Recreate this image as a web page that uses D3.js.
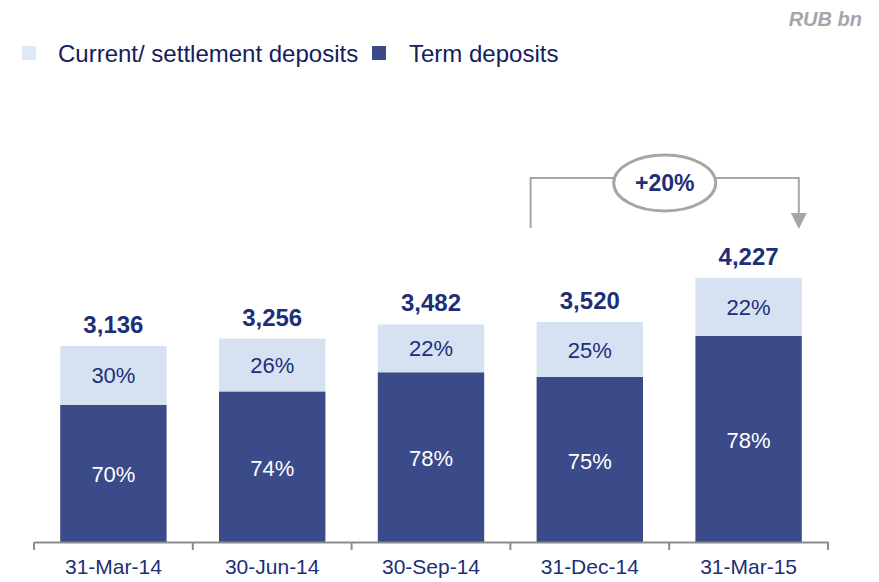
<!DOCTYPE html>
<html>
<head>
<meta charset="utf-8">
<script src="https://cdn.jsdelivr.net/npm/d3@7"></script>
<style>
  body { margin: 0; background: #fff; }
  text { font-family: "Liberation Sans", Arial, sans-serif; }
</style>
</head>
<body>
<script>
var dates = ["31-Mar-14", "30-Jun-14", "30-Sep-14", "31-Dec-14", "31-Mar-15"];
var totals = [3136, 3256, 3482, 3520, 4227];
var currentShare = [30, 26, 22, 25, 22];
var termShare = [70, 74, 78, 75, 78];
var growthLabel = "+20%";

var width = 879, height = 582;
var darkBlue = "#3b4a89", lightBlue = "#d6e2f1", navy = "#1c2f78";

var svg = d3.select("body").append("svg")
    .attr("width", width)
    .attr("height", height);

var x = d3.scaleBand()
    .domain(dates)
    .range([34, 828])
    .paddingInner(0.33)
    .paddingOuter(0.165);

var y = d3.scaleLinear()
    .domain([0, 8000])
    .range([542, 42]);

// stacked bars
var rows = dates.map(function(d, i) {
    var term = totals[i] * termShare[i] / (termShare[i] + currentShare[i]);
    return {date: d, total: totals[i], term: term, cur: currentShare[i], termPct: termShare[i]};
});

var g = svg.append("g");

g.selectAll(".term")
    .data(rows)
    .enter().append("rect")
    .attr("class", "term")
    .attr("x", function(d) { return x(d.date); })
    .attr("width", x.bandwidth())
    .attr("y", function(d) { return y(d.term); })
    .attr("height", function(d) { return y(0) - y(d.term); })
    .attr("fill", darkBlue);

g.selectAll(".cur")
    .data(rows)
    .enter().append("rect")
    .attr("class", "cur")
    .attr("x", function(d) { return x(d.date); })
    .attr("width", x.bandwidth())
    .attr("y", function(d) { return y(d.total); })
    .attr("height", function(d) { return y(d.term) - y(d.total); })
    .attr("fill", lightBlue);

g.selectAll(".termLbl")
    .data(rows)
    .enter().append("text")
    .attr("x", function(d) { return x(d.date) + x.bandwidth() / 2; })
    .attr("y", function(d) { return (y(0) + y(d.term)) / 2 + 9; })
    .attr("text-anchor", "middle")
    .attr("font-size", 22)
    .attr("fill", "#fff")
    .text(function(d) { return d.termPct + "%"; });

g.selectAll(".curLbl")
    .data(rows)
    .enter().append("text")
    .attr("x", function(d) { return x(d.date) + x.bandwidth() / 2; })
    .attr("y", function(d) { return (y(d.term) + y(d.total)) / 2 + 8; })
    .attr("text-anchor", "middle")
    .attr("font-size", 22)
    .attr("fill", navy)
    .text(function(d) { return d.cur + "%"; });

g.selectAll(".totLbl")
    .data(rows)
    .enter().append("text")
    .attr("x", function(d) { return x(d.date) + x.bandwidth() / 2; })
    .attr("y", function(d) { return y(d.total) - 13; })
    .attr("text-anchor", "middle")
    .attr("font-size", 24)
    .attr("font-weight", "bold")
    .attr("fill", navy)
    .text(function(d) { return d3.format(",")(d.total); });

// axis
var axis = svg.append("g")
    .attr("transform", "translate(0," + y(0) + ")")
    .call(d3.axisBottom(x).tickSize(0).tickPadding(17));
axis.select(".domain").attr("stroke", "#8c8c8c").attr("stroke-width", 2);
axis.selectAll("text")
    .attr("font-size", 21)
    .attr("fill", navy)
    .style("font-family", "Liberation Sans, Arial, sans-serif");

var bounds = x.range();
var step = x.step();
var seps = [bounds[0]];
dates.forEach(function(d) { seps.push(x(d) - x.paddingInner() * step / 2 + step); });
seps[seps.length - 1] = bounds[1];
axis.selectAll(".sep")
    .data(seps)
    .enter().append("line")
    .attr("x1", function(d) { return d; })
    .attr("x2", function(d) { return d; })
    .attr("y1", 0)
    .attr("y2", 8)
    .attr("stroke", "#8c8c8c")
    .attr("stroke-width", 2);

// legend
var legend = svg.append("g");
legend.append("rect").attr("x", 22).attr("y", 46).attr("width", 14).attr("height", 14).attr("fill", "#dde9f8");
legend.append("text").attr("x", 58).attr("y", 62).attr("font-size", 24).attr("fill", "#14205e")
    .text("Current/ settlement deposits");
legend.append("rect").attr("x", 372).attr("y", 46).attr("width", 14).attr("height", 14).attr("fill", darkBlue);
legend.append("text").attr("x", 409).attr("y", 62).attr("font-size", 24).attr("fill", "#14205e")
    .text("Term deposits");

svg.append("text")
    .attr("x", 862).attr("y", 26)
    .attr("text-anchor", "end")
    .attr("font-size", 20)
    .attr("font-style", "italic")
    .attr("font-weight", "bold")
    .attr("fill", "#a6a6a6")
    .text("RUB bn");

// growth annotation
var ax1 = x(dates[3]) - 6;
var ax2 = x(dates[4]) + x.bandwidth() - 3;
var ay = 178;
svg.append("path")
    .attr("d", "M" + ax1 + "," + 228 + "V" + ay + "H" + ax2 + "V" + 214)
    .attr("fill", "none")
    .attr("stroke", "#a6a6a6")
    .attr("stroke-width", 2);
svg.append("path")
    .attr("d", "M" + (ax2 - 8) + ",213L" + (ax2 + 8) + ",213L" + ax2 + ",229Z")
    .attr("fill", "#a6a6a6");
var cx = (ax1 + ax2) / 2;
svg.append("ellipse")
    .attr("cx", cx).attr("cy", 183)
    .attr("rx", 51).attr("ry", 28)
    .attr("fill", "#fff")
    .attr("stroke", "#a6a6a6")
    .attr("stroke-width", 3);
svg.append("text")
    .attr("x", cx).attr("y", 191)
    .attr("text-anchor", "middle")
    .attr("font-size", 23)
    .attr("font-weight", "bold")
    .attr("fill", navy)
    .text(growthLabel);
</script>
</body>
</html>
